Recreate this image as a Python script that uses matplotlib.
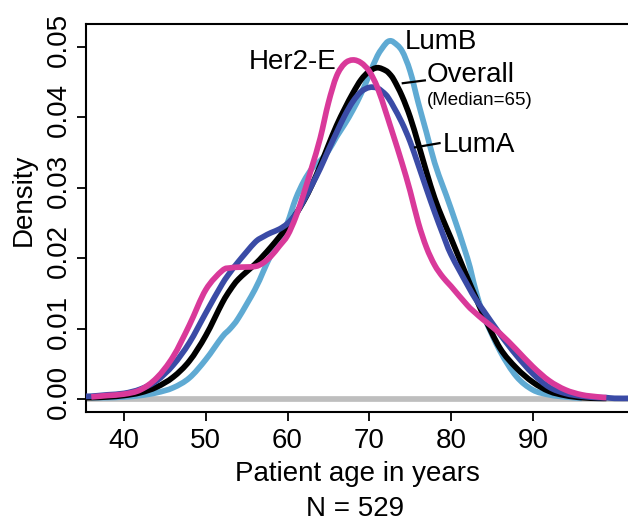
import numpy as np
import matplotlib
matplotlib.use("Agg")
import matplotlib.pyplot as plt
from matplotlib.path import Path
from matplotlib.patches import PathPatch
from matplotlib.transforms import ScaledTranslation

plt.rcParams['font.family'] = ['Liberation Sans', 'DejaVu Sans']

nan = np.nan
ages = [35.3, 36, 38, 40, 42, 44, 46, 48, 50, 52, 53, 54, 56, 57, 58, 59, 60, 61, 62, 63, 64, 65,
        66, 67, 68, 69, 70, 71, 72, 72.5, 73, 74, 75, 76, 77, 78, 79, 80, 82, 83, 84, 86, 88, 90,
        92, 94, 96, 98, 99, 100, 102]

lumA = [0.0004, 0.0004, 0.0006, 0.0008, 0.0014, 0.0026, 0.0048, 0.0080, 0.0122, 0.0163, 0.0180, 0.0195,
        0.0222, 0.0230, 0.0236, 0.0241, 0.0249, 0.0262, 0.0282, 0.0304, 0.0327, 0.0353,
        0.0378, 0.0402, 0.0422, 0.0436, 0.0442, 0.0441, 0.0432, 0.0424, 0.0414, 0.0392, 0.0365, 0.0332, 0.0298,
        0.0265, 0.0234, 0.0205, 0.0162, 0.0142, 0.0125, 0.0092, 0.0062, 0.0036,
        0.0017, 0.0008, 0.0004, 0.0002, 0.0002, 0.0001, 0.0001]

overall = [0.0002, 0.0002, 0.0003, 0.0005, 0.0009, 0.0017, 0.0031, 0.0054, 0.0090, 0.0136, 0.0155, 0.0170,
           0.0191, 0.0203, 0.0216, 0.0230, 0.0245, 0.0262, 0.0281, 0.0304, 0.0331, 0.0360,
           0.0388, 0.0412, 0.0434, 0.0453, 0.0465, 0.0470, 0.0466, 0.0461, 0.0453, 0.0430, 0.0400, 0.0362, 0.0322,
           0.0285, 0.0255, 0.0228, 0.0172, 0.0145, 0.0118, 0.0072, 0.0044, 0.0024,
           0.0011, 0.0005, 0.0002, 0.0001, 0.0001, nan, nan]

lumB = [nan, 0.0002, 0.0002, 0.0003, 0.0005, 0.0009, 0.0016, 0.0030, 0.0056, 0.0088, 0.0100, 0.0115,
        0.0155, 0.0180, 0.0205, 0.0224, 0.0250, 0.0284, 0.0309, 0.0327, 0.0338, 0.0352,
        0.0372, 0.0390, 0.0410, 0.0433, 0.0460, 0.0487, 0.0504, 0.0508, 0.0506, 0.0494, 0.0465, 0.0420, 0.0378,
        0.0335, 0.0302, 0.0270, 0.0200, 0.0155, 0.0118, 0.0068, 0.0032, 0.0013,
        0.0006, 0.0003, 0.0001, nan, nan, nan, nan]

her2 = [nan, 0.0003, 0.0005, 0.0007, 0.0013, 0.0030, 0.0060, 0.0105, 0.0155, 0.0182, 0.0186, 0.0187,
        0.0188, 0.0193, 0.0203, 0.0217, 0.0232, 0.0258, 0.0292, 0.0330, 0.0370, 0.0420,
        0.0458, 0.0476, 0.0481, 0.0477, 0.0465, 0.0442, 0.0408, 0.0390, 0.0372, 0.0335, 0.0295, 0.0250, 0.0215,
        0.0190, 0.0173, 0.0160, 0.0133, 0.0122, 0.0112, 0.0093, 0.0070, 0.0046,
        0.0026, 0.0013, 0.0006, 0.0003, 0.0002, nan, nan]

xticks = [40, 50, 60, 70, 80, 90]
yticks = [0.00, 0.01, 0.02, 0.03, 0.04, 0.05]
ytick_labels = ["0.00", "0.01", "0.02", "0.03", "0.04", "0.05"]


def smooth_path(x, y):
    """Catmull-Rom curve through the given points, as a matplotlib Bezier path."""
    x = np.asarray(x, float)
    y = np.asarray(y, float)
    ok = np.isfinite(y)
    p = np.column_stack([x[ok], y[ok]])
    n = len(p)
    verts = [p[0]]
    codes = [Path.MOVETO]
    for i in range(n - 1):
        p0 = p[i - 1] if i > 0 else p[i]
        p1 = p[i]
        p2 = p[i + 1]
        p3 = p[i + 2] if i + 2 < n else p[i + 1]
        c1 = p1 + (p2 - p0) / 6.0
        c2 = p2 - (p3 - p1) / 6.0
        verts += [c1, c2, p2]
        codes += [Path.CURVE4] * 3
    return Path(verts, codes)


W, H = 628, 522
fig = plt.figure(figsize=(W / 100, H / 100), dpi=100)
ax = fig.add_axes([86 / W, (H - 412) / H, (W - 86) / W, (412 - 24) / H])

ax.set_xlim(35.35, 101.65)
ax.set_ylim(-0.00184, 0.0532)

lw = 4.1
ax.axhline(0, color='#BEBEBE', lw=lw, zorder=1)
series = [(lumB, '#5FAAD3', 2), (overall, 'black', 3), (lumA, '#3A4BA6', 4), (her2, '#D9399A', 5)]
for vals, col, z in series:
    ax.add_patch(PathPatch(smooth_path(ages, vals), facecolor='none', edgecolor=col,
                           lw=lw, zorder=z, capstyle='butt', joinstyle='round'))

fs = 20
ax.text(74.35, 0.0506, "LumB", fontsize=fs, ha='left', va='center')
ax.text(66.0, 0.0478, "Her2-E", fontsize=fs, ha='right', va='center')
ax.text(77.05, 0.0460, "Overall", fontsize=fs, ha='left', va='center')
ax.text(77.05, 0.0424, "(Median=65)", fontsize=13.5, ha='left', va='center')
ax.text(79.0, 0.0360, "LumA", fontsize=fs, ha='left', va='center')
ax.plot([74.1, 76.8], [0.0448, 0.0452], color='black', lw=1.6, zorder=6)
ax.plot([75.6, 78.6], [0.0357, 0.0363], color='black', lw=1.6, zorder=6)

ax.spines['right'].set_visible(False)
for s in ['left', 'top', 'bottom']:
    ax.spines[s].set_linewidth(1.5)

ax.set_xticks(xticks)
ax.set_xticklabels([str(t) for t in xticks])
ax.set_yticks(yticks)
ax.set_yticklabels(ytick_labels, rotation=90, va='center')
ax.tick_params(axis='both', length=6.5, width=1.3, labelsize=fs, pad=5)
ax.tick_params(axis='y', pad=4)
up = ScaledTranslation(0, 7 / 100, fig.dpi_scale_trans)
for lab in ax.get_yticklabels():
    lab.set_transform(lab.get_transform() + up)

ax.set_xlabel("Patient age in years", fontsize=fs, labelpad=5)
fig.text(24 / W, 1 - 200 / H, "Density", fontsize=fs, rotation=90, ha='center', va='center')
fig.text(355 / W, 1 - 509 / H, "N = 529", fontsize=fs, ha='center', va='center')

fig.savefig("out.png", dpi=100)
